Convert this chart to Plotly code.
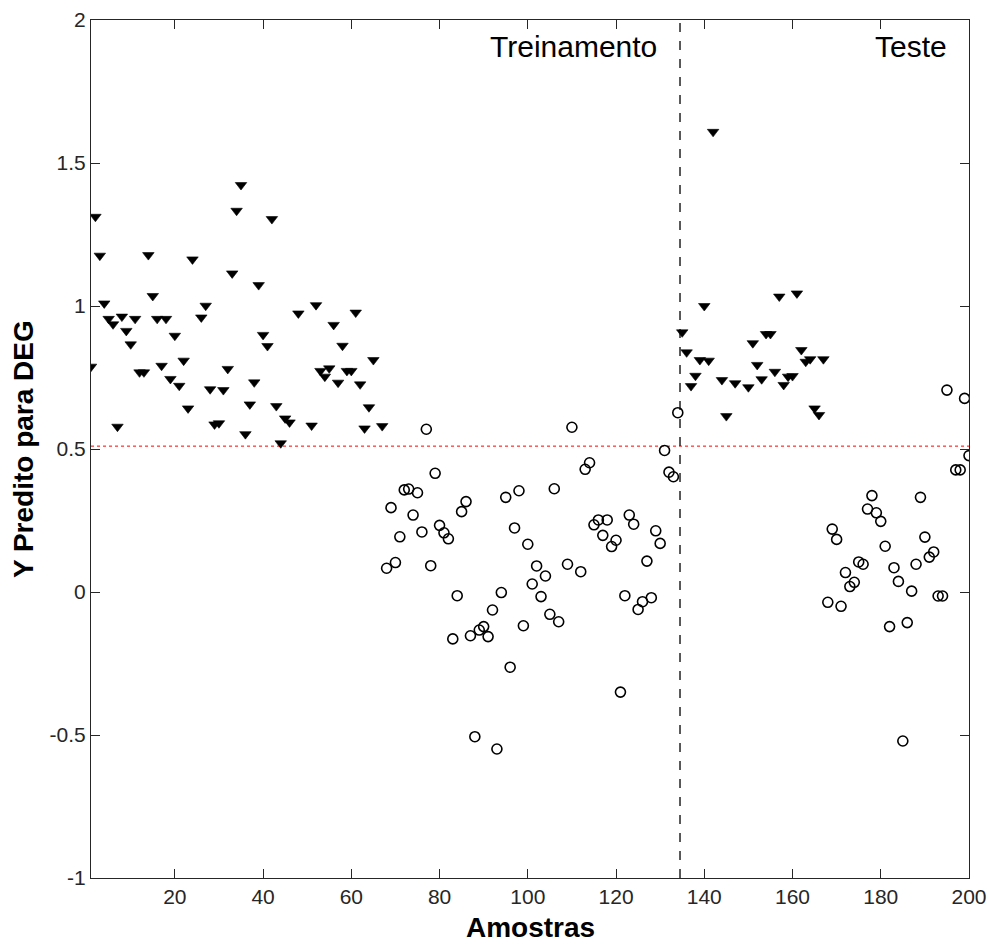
import plotly.graph_objects as go

# Treinamento - classe DEG (triângulos)
tri_train_x = [1, 2, 3, 4, 5, 6, 7, 8, 9, 10, 11, 12, 13, 14, 15, 16, 17, 18, 19, 20,
               21, 22, 23, 24, 26, 27, 28, 29, 30, 31, 32, 33, 34, 35, 36, 37, 38, 39, 40,
               41, 42, 43, 44, 45, 46, 48, 51, 52, 53, 54, 55, 56, 57, 58, 59, 60, 61, 62,
               63, 64, 65, 67]
tri_train_y = [0.788, 1.312, 1.176, 1.009, 0.955, 0.936, 0.578, 0.963, 0.913, 0.866,
               0.955, 0.768, 0.768, 1.178, 1.035, 0.955, 0.791, 0.955, 0.745, 0.896,
               0.721, 0.809, 0.642, 1.163, 0.960, 1.001, 0.709, 0.586, 0.590, 0.706,
               0.780, 1.114, 1.333, 1.423, 0.552, 0.656, 0.733, 1.073, 0.899, 0.860,
               1.304, 0.650, 0.520, 0.607, 0.593, 0.974, 0.582, 1.003, 0.773, 0.753,
               0.782, 0.934, 0.732, 0.861, 0.773, 0.773, 0.977, 0.726, 0.572, 0.646,
               0.811, 0.580]

# Treinamento - outra classe (círculos)
circ_train_x = [68, 69, 70, 71, 72, 73, 74, 75, 76, 77, 78, 79, 80, 81, 82, 83, 84, 85,
                86, 87, 88, 89, 90, 91, 92, 93, 94, 95, 96, 97, 98, 99, 100, 101, 102,
                103, 104, 105, 106, 107, 109, 110, 112, 113, 114, 115, 116, 117, 118,
                119, 120, 121, 122, 123, 124, 125, 126, 127, 128, 129, 130, 131, 132,
                133, 134]
circ_train_y = [0.083, 0.295, 0.103, 0.193, 0.357, 0.360, 0.269, 0.347, 0.210, 0.569,
                0.092, 0.415, 0.233, 0.207, 0.186, -0.164, -0.013, 0.281, 0.316, -0.153,
                -0.506, -0.133, -0.121, -0.156, -0.063, -0.549, -0.002, 0.331, -0.263,
                0.224, 0.354, -0.118, 0.167, 0.028, 0.091, -0.016, 0.056, -0.078, 0.361,
                -0.104, 0.097, 0.576, 0.071, 0.429, 0.452, 0.235, 0.252, 0.198, 0.252,
                0.159, 0.181, -0.350, -0.013, 0.269, 0.237, -0.061, -0.034, 0.108,
                -0.020, 0.214, 0.170, 0.495, 0.419, 0.403, 0.627]

# Teste - classe DEG (triângulos)
tri_test_x = [135, 136, 137, 138, 139, 140, 141, 142, 144, 145, 147, 150, 151, 152, 153,
              154, 155, 156, 157, 158, 159, 160, 161, 162, 163, 164, 165, 166, 167]
tri_test_y = [0.908, 0.838, 0.720, 0.756, 0.811, 1.000, 0.809, 1.609, 0.741, 0.615,
              0.730, 0.716, 0.870, 0.794, 0.744, 0.902, 0.902, 0.770, 1.033, 0.724,
              0.753, 0.755, 1.044, 0.846, 0.805, 0.814, 0.642, 0.619, 0.814]

# Teste - outra classe (círculos)
circ_test_x = [168, 169, 170, 171, 172, 173, 174, 175, 176, 177, 178, 179, 180, 181, 182,
               183, 184, 185, 186, 187, 188, 189, 190, 191, 192, 193, 194, 195, 197, 198,
               199, 200]
circ_test_y = [-0.036, 0.220, 0.184, -0.050, 0.068, 0.019, 0.034, 0.105, 0.097, 0.290,
               0.337, 0.277, 0.247, 0.160, -0.121, 0.085, 0.037, -0.521, -0.107, 0.003,
               0.097, 0.331, 0.192, 0.122, 0.140, -0.014, -0.014, 0.706, 0.427, 0.427,
               0.677, 0.477]

threshold = 0.51
split_x = 134.5
x_ticks = [20, 40, 60, 80, 100, 120, 140, 160, 180, 200]
y_ticks = [-1, -0.5, 0, 0.5, 1, 1.5, 2]
y_tick_text = ["-1", "-0.5", "0", "0.5", "1", "1.5", "2"]

FONT = "Arial, Liberation Sans, sans-serif"
AX = "#262626"

tri_marker = dict(symbol="triangle-down", size=10, color="black",
                  line=dict(color="black", width=0.6))
circ_marker = dict(symbol="circle-open", size=10, color="black",
                   line=dict(color="black", width=1.6))

fig = go.Figure()
fig.add_trace(go.Scatter(x=[1, 200], y=[threshold, threshold], mode="lines",
                         line=dict(color="red", width=1, dash="dot"), hoverinfo="skip"))
fig.add_trace(go.Scatter(x=[split_x, split_x], y=[-1, 2], mode="lines",
                         line=dict(color="black", width=1.3, dash="dash"), hoverinfo="skip"))
fig.add_trace(go.Scatter(x=tri_train_x, y=tri_train_y, mode="markers", marker=tri_marker))
fig.add_trace(go.Scatter(x=circ_train_x, y=circ_train_y, mode="markers", marker=circ_marker))
fig.add_trace(go.Scatter(x=tri_test_x, y=tri_test_y, mode="markers", marker=tri_marker))
fig.add_trace(go.Scatter(x=circ_test_x, y=circ_test_y, mode="markers", marker=circ_marker))

fig.add_annotation(x=110.3, y=1.906, xref="x", yref="y", text="Treinamento",
                   showarrow=False, font=dict(family=FONT, size=30, color="black"))
fig.add_annotation(x=186.9, y=1.906, xref="x", yref="y", text="Teste",
                   showarrow=False, font=dict(family=FONT, size=30, color="black"))

# axis titles
fig.add_annotation(x=0.5, y=-50 / 858, xref="paper", yref="paper", text="<b>Amostras</b>",
                   showarrow=False, xanchor="center", yanchor="middle",
                   font=dict(family=FONT, size=28, color="black"))
fig.add_annotation(x=-68 / 878, y=0.5, xref="paper", yref="paper",
                   text="<b>Y Predito para DEG</b>", textangle=-90,
                   showarrow=False, xanchor="center", yanchor="middle",
                   font=dict(family=FONT, size=28, color="black"))

fig.update_layout(
    width=989, height=945,
    margin=dict(l=91, r=20, t=20, b=67, autoexpand=False),
    paper_bgcolor="white", plot_bgcolor="white",
    showlegend=False,
    font=dict(family=FONT, color=AX),
)
fig.update_xaxes(
    range=[1, 200], tickvals=x_ticks, ticks="inside", ticklen=9, tickcolor=AX,
    showline=True, linecolor=AX, linewidth=1, mirror="ticks", showgrid=False,
    zeroline=False, automargin=False, tickfont=dict(family=FONT, size=21, color=AX),
)
fig.update_yaxes(
    range=[-1, 2], tickvals=y_ticks, ticktext=y_tick_text, ticks="inside", ticklen=9,
    tickcolor=AX, showline=True, linecolor=AX, linewidth=1, mirror="ticks",
    showgrid=False, zeroline=False, automargin=False,
    tickfont=dict(family=FONT, size=21, color=AX),
)

fig.write_html("out.html")
